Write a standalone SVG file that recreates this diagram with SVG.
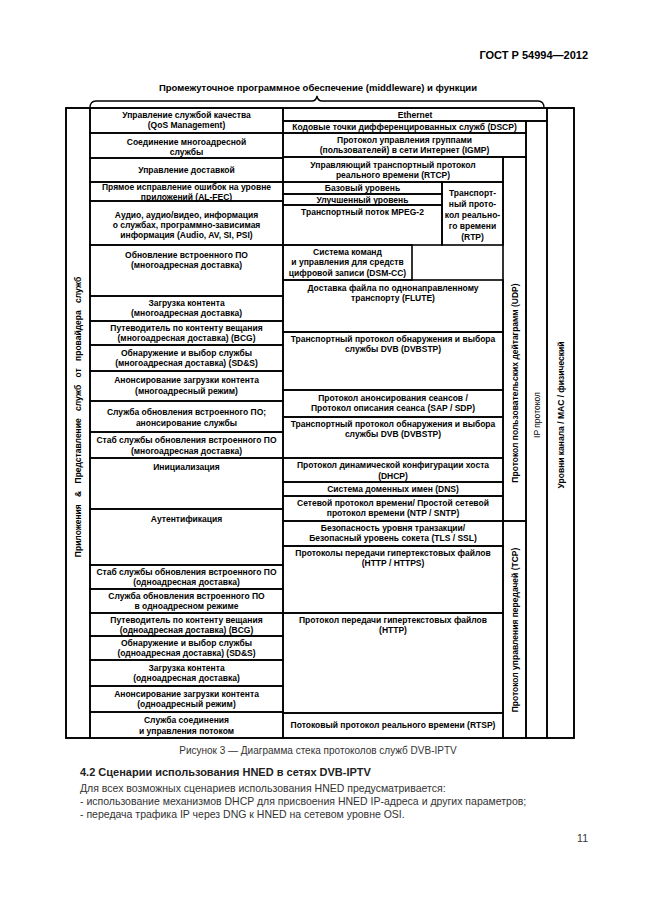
<svg xmlns="http://www.w3.org/2000/svg" width="646" height="913" viewBox="0 0 646 913">
<style>
.bg{fill:#fff}
.c{fill:none;stroke:#000;stroke-width:1.6}
.t{font-family:"Liberation Sans",Arial,sans-serif;font-size:8.5px;font-weight:bold;text-anchor:middle;fill:#000}
.tn{font-family:"Liberation Sans",Arial,sans-serif;font-size:8.5px;text-anchor:middle;fill:#000}
.br{fill:none;stroke:#000;stroke-width:1.3}
.p{font-family:"Liberation Sans",Arial,sans-serif;font-size:10.5px;fill:#333}
</style>
<rect class="bg" x="0" y="0" width="646" height="913"/>
<text x="588" y="59" style="font-family:'Liberation Sans',Arial,sans-serif;font-size:11px;font-weight:bold;text-anchor:end">ГОСТ Р 54994—2012</text>
<text x="318" y="91" class="t" style="font-size:9.5px">Промежуточное программное обеспечение (middleware) и функции</text>

<g id="connectors">
<path class="br" d="M90,108 Q90,101 96,101 L312,101 Q316,101 317,96 Q318,101 322,101 L538,101 Q544,101 544,108"/>
</g>

<g id="frame"><rect class="c" x="66" y="108" width="508" height="630"/></g>

<g id="apps"><rect class="c" x="66" y="108" width="24" height="630"/>
<text class="t" transform="translate(81,417) rotate(-90)" style="word-spacing:5px">Приложения &amp; Представление служб от провайдера служб</text></g>

<g id="l1"><rect class="c" x="90" y="108" width="193" height="25"/><text class="t" x="186.5" y="118">Управление службой качества</text><text class="t" x="186.5" y="128">(QoS Management)</text></g>
<g id="l2"><rect class="c" x="90" y="133" width="193" height="25"/><text class="t" x="186.5" y="144.5">Соединение многоадресной</text><text class="t" x="186.5" y="154.5">службы</text></g>
<g id="l3"><rect class="c" x="90" y="158" width="193" height="24"/><text class="t" x="186.5" y="173">Управление доставкой</text></g>
<g id="l4"><rect class="c" x="90" y="182" width="193" height="19"/><text class="t" x="186.5" y="190">Прямое исправление ошибок на уровне</text><text class="t" x="186.5" y="199.5">приложений (AL-FEC)</text></g>
<g id="l5"><rect class="c" x="90" y="201" width="193" height="44"/><text class="t" x="186.5" y="218">Аудио, аудио/видео, информация</text><text class="t" x="186.5" y="228">о службах, программно-зависимая</text><text class="t" x="186.5" y="238">информация (Audio, AV, SI, PSI)</text></g>
<g id="l6"><rect class="c" x="90" y="245" width="193" height="51"/><text class="t" x="186.5" y="258">Обновление встроенного ПО</text><text class="t" x="186.5" y="268">(многоадресная доставка)</text></g>
<g id="l7"><rect class="c" x="90" y="296" width="193" height="25"/><text class="t" x="186.5" y="306">Загрузка контента</text><text class="t" x="186.5" y="316">(многоадресная доставка)</text></g>
<g id="l8"><rect class="c" x="90" y="321" width="193" height="24"/><text class="t" x="186.5" y="331">Путеводитель по контенту вещания</text><text class="t" x="186.5" y="341">(многоадресная доставка) (BCG)</text></g>
<g id="l9"><rect class="c" x="90" y="345" width="193" height="26"/><text class="t" x="186.5" y="356">Обнаружение и выбор службы</text><text class="t" x="186.5" y="366">(многоадресная доставка) (SD&amp;S)</text></g>
<g id="l10"><rect class="c" x="90" y="371" width="193" height="30"/><text class="t" x="186.5" y="383">Анонсирование загрузки контента</text><text class="t" x="186.5" y="394">(многоадресный режим)</text></g>
<g id="l11"><rect class="c" x="90" y="401" width="193" height="31"/><text class="t" x="186.5" y="415">Служба обновления встроенного ПО;</text><text class="t" x="186.5" y="426">анонсирование службы</text></g>
<g id="l12"><rect class="c" x="90" y="432" width="193" height="26"/><text class="t" x="186.5" y="443">Стаб службы обновления встроенного ПО</text><text class="t" x="186.5" y="454">(многоадресная доставка)</text></g>
<g id="l13"><rect class="c" x="90" y="458" width="193" height="51"/><text class="t" x="186.5" y="470">Инициализация</text></g>
<g id="l14"><rect class="c" x="90" y="509" width="193" height="56"/><text class="t" x="186.5" y="522">Аутентификация</text></g>
<g id="l15"><rect class="c" x="90" y="565" width="193" height="24"/><text class="t" x="186.5" y="575">Стаб службы обновления встроенного ПО</text><text class="t" x="186.5" y="585">(одноадресная доставка)</text></g>
<g id="l16"><rect class="c" x="90" y="589" width="193" height="24"/><text class="t" x="186.5" y="599">Служба обновления встроенного ПО</text><text class="t" x="186.5" y="609">в одноадресном режиме</text></g>
<g id="l17"><rect class="c" x="90" y="613" width="193" height="23"/><text class="t" x="186.5" y="623">Путеводитель по контенту вещания</text><text class="t" x="186.5" y="633">(одноадресная доставка) (BCG)</text></g>
<g id="l18"><rect class="c" x="90" y="636" width="193" height="24"/><text class="t" x="186.5" y="646">Обнаружение и выбор службы</text><text class="t" x="186.5" y="656">(одноадресная доставка) (SD&amp;S)</text></g>
<g id="l19"><rect class="c" x="90" y="660" width="193" height="26"/><text class="t" x="186.5" y="671">Загрузка контента</text><text class="t" x="186.5" y="681">(одноадресная доставка)</text></g>
<g id="l20"><rect class="c" x="90" y="686" width="193" height="26"/><text class="t" x="186.5" y="697">Анонсирование загрузки контента</text><text class="t" x="186.5" y="707">(одноадресный режим)</text></g>
<g id="l21"><rect class="c" x="90" y="712" width="193" height="26"/><text class="t" x="186.5" y="723">Служба соединения</text><text class="t" x="186.5" y="734">и управления потоком</text></g>

<g id="m-eth"><rect class="c" x="283" y="108" width="264" height="13"/><text class="t" x="415" y="118">Ethernet</text></g>
<g id="m-dscp"><rect class="c" x="283" y="121" width="243" height="12"/><text class="t" x="404.5" y="130">Кодовые точки дифференцированных служб (DSCP)</text></g>
<g id="m-igmp"><rect class="c" x="283" y="133" width="243" height="24"/><text class="t" x="404.5" y="143">Протокол управления группами</text><text class="t" x="404.5" y="153">(пользователей) в сети Интернет (IGMP)</text></g>
<g id="m-rtcp"><rect class="c" x="283" y="157" width="220" height="25"/><text class="t" x="393" y="167.5">Управляющий транспортный протокол</text><text class="t" x="393" y="178">реального времени (RTCP)</text></g>
<g id="m-base"><rect class="c" x="283" y="182" width="159" height="12"/><text class="t" x="362.5" y="191">Базовый уровень</text></g>
<g id="m-enh"><rect class="c" x="283" y="194" width="159" height="11"/><text class="t" x="362.5" y="202.5">Улучшенный уровень</text></g>
<g id="m-mpeg"><rect class="c" x="283" y="205" width="159" height="40"/><text class="t" x="362.5" y="215">Транспортный поток MPEG-2</text></g>
<g id="m-rtp"><rect class="c" x="442" y="182" width="61" height="63"/><text class="t" x="472.5" y="196">Транспорт-</text><text class="t" x="472.5" y="207">ный прото-</text><text class="t" x="472.5" y="218">кол реально-</text><text class="t" x="472.5" y="229">го времени</text><text class="t" x="472.5" y="240">(RTP)</text></g>
<g id="m-dsmcc"><rect class="c" x="283" y="245" width="129" height="35"/><text class="t" x="347.5" y="255">Система команд</text><text class="t" x="347.5" y="265">и управления для средств</text><text class="t" x="347.5" y="276">цифровой записи (DSM-CC)</text></g>
<g id="m-flute"><rect class="c" x="283" y="280" width="220" height="52"/><text class="t" x="393" y="291">Доставка файла по однонаправленному</text><text class="t" x="393" y="301">транспорту (FLUTE)</text></g>
<g id="m-dvbstp1"><rect class="c" x="283" y="332" width="220" height="58"/><text class="t" x="393" y="342">Транспортный протокол обнаружения и выбора</text><text class="t" x="393" y="352">службы DVB (DVBSTP)</text></g>
<g id="m-sap"><rect class="c" x="283" y="390" width="220" height="27"/><text class="t" x="393" y="401">Протокол анонсирования сеансов /</text><text class="t" x="393" y="411">Протокол описания сеанса (SAP / SDP)</text></g>
<g id="m-dvbstp2"><rect class="c" x="283" y="417" width="220" height="41"/><text class="t" x="393" y="427">Транспортный протокол обнаружения и выбора</text><text class="t" x="393" y="437">службы DVB (DVBSTP)</text></g>
<g id="m-dhcp"><rect class="c" x="283" y="458" width="220" height="24"/><text class="t" x="393" y="468">Протокол динамической конфигурации хоста</text><text class="t" x="393" y="479">(DHCP)</text></g>
<g id="m-dns"><rect class="c" x="283" y="482" width="220" height="14"/><text class="t" x="393" y="492">Система доменных имен (DNS)</text></g>
<g id="m-ntp"><rect class="c" x="283" y="496" width="220" height="25"/><text class="t" x="393" y="506">Сетевой протокол времени/ Простой сетевой</text><text class="t" x="393" y="516">протокол времени (NTP / SNTP)</text></g>
<g id="m-tls"><rect class="c" x="283" y="521" width="220" height="25"/><text class="t" x="393" y="531">Безопасность уровня транзакции/</text><text class="t" x="393" y="541">Безопасный уровень сокета (TLS / SSL)</text></g>
<g id="m-https"><rect class="c" x="283" y="546" width="220" height="67"/><text class="t" x="393" y="556">Протоколы передачи гипертекстовых файлов</text><text class="t" x="393" y="566">(HTTP / HTTPS)</text></g>
<g id="m-http"><rect class="c" x="283" y="613" width="220" height="100"/><text class="t" x="393" y="623">Протокол передачи гипертекстовых файлов</text><text class="t" x="393" y="633">(HTTP)</text></g>
<g id="m-rtsp"><rect class="c" x="283" y="713" width="220" height="25"/><text class="t" x="393" y="728">Потоковый протокол реального времени (RTSP)</text></g>

<g id="udp"><rect class="c" x="503" y="157" width="23" height="364"/><text class="t" transform="translate(517.5,383) rotate(-90)">Протокол пользовательских дейтаграмм (UDP)</text></g>
<g id="tcp"><rect class="c" x="503" y="521" width="23" height="217"/><text class="t" transform="translate(517.5,630) rotate(-90)">Протокол управления передачей (TCP)</text></g>
<g id="ip"><rect class="c" x="526" y="121" width="21" height="617"/><text class="tn" transform="translate(539.5,415) rotate(-90)">IP протокол</text></g>
<g id="link"><rect class="c" x="547" y="108" width="27" height="630"/><text class="t" transform="translate(563.5,415) rotate(-90)">Уровни канала / MAC / физический</text></g>

<text x="318" y="754" style="font-family:'Liberation Sans',Arial,sans-serif;font-size:10px;fill:#333;text-anchor:middle">Рисунок 3 — Диаграмма стека протоколов служб DVB-IPTV</text>
<text x="80" y="776" style="font-family:'Liberation Sans',Arial,sans-serif;font-size:11px;font-weight:bold;fill:#222">4.2 Сценарии использования HNED в сетях DVB-IPTV</text>
<text class="p" x="80" y="792">Для всех возможных сценариев использования HNED предусматривается:</text>
<text class="p" x="80" y="805">- использование механизмов DHCP для присвоения HNED IP-адреса и других параметров;</text>
<text class="p" x="80" y="818">- передача трафика IP через DNG к HNED на сетевом уровне OSI.</text>
<text x="588" y="842" style="font-family:'Liberation Sans',Arial,sans-serif;font-size:10.5px;fill:#333;text-anchor:end">11</text>
</svg>
